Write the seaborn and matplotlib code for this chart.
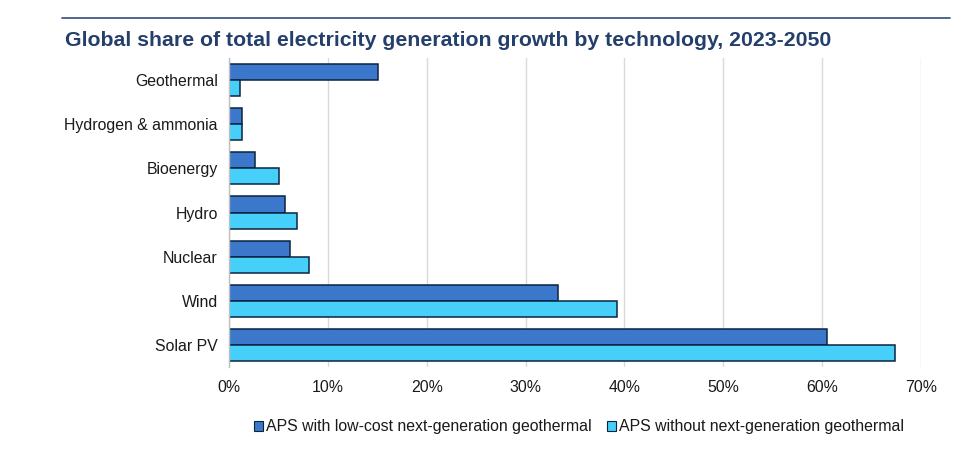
import matplotlib
matplotlib.use("Agg")
import matplotlib.pyplot as plt
import seaborn as sns
import pandas as pd
from matplotlib.ticker import FuncFormatter, MultipleLocator
from matplotlib.patches import Patch

categories = ["Geothermal", "Hydrogen & ammonia", "Bioenergy", "Hydro", "Nuclear", "Wind", "Solar PV"]
series_names = ["APS with low-cost next-generation geothermal", "APS without next-generation geothermal"]
with_geo = [15.1, 1.3, 2.6, 5.7, 6.2, 33.3, 60.5]
without_geo = [1.1, 1.3, 5.1, 6.9, 8.1, 39.2, 67.4]
title = "Global share of total electricity generation growth by technology, 2023-2050"

df = pd.DataFrame({
    "tech": categories * 2,
    "scenario": [series_names[0]] * len(categories) + [series_names[1]] * len(categories),
    "value": with_geo + without_geo,
})

sns.set_theme(style="white")
plt.rcParams["font.family"] = ["Liberation Sans", "DejaVu Sans"]

colors = ["#3b78cc", "#45cff9"]
fig = plt.figure(figsize=(9.6, 4.51), dpi=100)
ax = fig.add_axes([229 / 960, 1 - 367 / 451, (921 - 229) / 960, (367 - 58) / 451])

sns.barplot(data=df, y="tech", x="value", hue="scenario", order=categories,
            hue_order=series_names, palette=colors, orient="h", width=0.73,
            edgecolor="#0c2340", linewidth=1.1, ax=ax, legend=False, saturation=1)

ax.set_xlim(0, 70)
ax.set_ylim(6.5, -0.5)
ax.xaxis.set_major_locator(MultipleLocator(10))
ax.xaxis.set_major_formatter(FuncFormatter(lambda v, p: f"{int(v)}%"))
ax.grid(axis="x", color="#d9d9d9", linewidth=1)
ax.set_axisbelow(True)
for s in ["top", "right", "bottom"]:
    ax.spines[s].set_visible(False)
ax.spines["left"].set_color("#bfbfbf")
ax.spines["left"].set_linewidth(1)
ax.set_xlabel("")
ax.set_ylabel("")
ax.tick_params(axis="y", length=0, pad=8, labelsize=11.4, labelcolor="#1a1a1a")
ax.tick_params(axis="x", length=0, pad=9, labelsize=11.4, labelcolor="#1a1a1a")

fig.text(65 / 960, 1 - 40 / 451, title, fontsize=15.3, fontweight="bold",
         color="#243f6b", va="center", ha="left")
fig.add_artist(plt.Line2D([62 / 960, 950 / 960], [1 - 18 / 451, 1 - 18 / 451],
                          color="#2e4f7a", linewidth=1.2))

handles = [Patch(facecolor=c, edgecolor="#0c2340", linewidth=0.8) for c in colors]
fig.legend(handles, series_names, loc="center", bbox_to_anchor=(579 / 960, 1 - 427 / 451),
           ncol=2, frameon=False, fontsize=11.4, handlelength=0.55, handleheight=0.55,
           handletextpad=0.2, columnspacing=1.0, labelcolor="#1a1a1a")

fig.savefig("out.png", dpi=100)
